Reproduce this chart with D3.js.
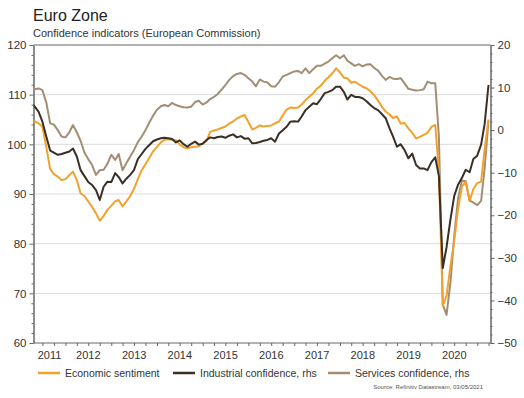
<!DOCTYPE html>
<html><head><meta charset="utf-8">
<script src="https://cdn.jsdelivr.net/npm/d3@7/dist/d3.min.js"></script>
<style>body{margin:0;background:#fff}svg{display:block;font-family:"Liberation Sans",Arial,sans-serif}</style>
</head><body><svg id="chart" width="524" height="398"></svg>
<script>
// Monthly data, April 2011 .. April 2021
const firstMonth = [2011, 3]; // year, month index (April)
const economicSentiment = [
104.3,104.6,104.2,103.6,99.5,95.0,94.0,93.5,92.8,93.0,93.8,94.5,
92.8,90.1,89.6,88.5,87.4,86.1,84.6,85.6,86.8,87.6,88.5,88.8,
87.5,88.5,89.6,91.0,93.0,94.8,96.0,97.3,98.6,99.5,100.4,100.9,
101.0,100.9,100.8,100.0,99.4,99.2,99.4,99.5,99.6,100.2,100.7,102.5,
102.8,103.0,103.3,103.6,104.2,104.6,105.2,105.6,105.9,104.5,103.0,103.3,
103.8,103.6,103.7,103.8,104.2,104.6,105.8,107.0,107.4,107.3,107.4,108.0,
108.9,109.6,110.3,111.2,111.8,112.8,113.5,114.3,115.3,114.5,113.4,113.3,
112.4,112.6,112.1,111.6,111.3,110.7,109.9,108.8,107.6,106.6,106.0,105.3,
105.6,104.2,104.3,103.2,102.3,101.2,101.5,101.9,102.3,103.5,103.9,94.5,
67.5,69.5,75.5,80.5,87.0,91.5,92.5,88.6,91.0,92.2,92.5,99.0,
105.0];
const industrialConfidence = [
6.5,5.5,4.3,2.0,-1.5,-4.8,-5.3,-5.8,-5.6,-5.3,-5.0,-4.3,
-6.2,-9.4,-10.8,-12.2,-12.9,-14.1,-16.4,-13.3,-12.1,-12.2,-10.1,-11.0,
-12.5,-11.4,-10.5,-9.4,-6.8,-5.6,-4.4,-3.5,-2.6,-2.2,-1.9,-1.8,
-1.9,-2.1,-2.9,-2.4,-3.3,-3.9,-3.2,-2.7,-3.4,-3.2,-2.3,-1.7,
-1.9,-1.6,-1.5,-1.8,-1.3,-1.0,-1.7,-1.4,-2.0,-1.9,-3.1,-3.0,
-2.8,-2.5,-2.3,-1.9,-2.7,-0.8,0.0,0.8,2.0,2.1,2.0,3.2,
4.7,5.5,6.3,6.1,7.3,8.7,9.0,9.4,10.2,10.2,9.0,7.2,
8.3,7.8,7.8,7.5,6.8,5.9,5.2,4.7,3.8,2.8,0.4,-1.5,
-3.9,-3.3,-4.7,-6.6,-5.5,-8.2,-9.0,-9.0,-9.4,-7.5,-6.4,-10.8,
-32.4,-27.5,-21.0,-15.5,-12.8,-11.2,-9.3,-9.9,-6.8,-6.0,-3.4,1.4,
10.6];
const servicesConfidence = [
9.6,9.6,9.8,9.4,6.5,1.6,1.3,0.0,-1.5,-1.7,-0.5,1.2,
-0.5,-2.5,-5.3,-6.8,-8.2,-10.5,-9.4,-9.3,-7.9,-5.8,-7.0,-5.6,
-9.4,-7.8,-6.2,-4.7,-2.8,-1.5,0.0,1.8,3.4,4.8,5.6,5.9,
5.6,6.4,5.9,5.6,5.4,5.3,5.5,6.6,6.9,6.0,6.5,7.3,
7.8,8.5,9.5,10.6,11.8,12.7,13.2,13.4,13.0,12.2,11.4,10.3,
11.9,11.4,11.2,10.3,10.2,11.3,12.6,13.0,13.4,13.8,13.9,13.4,
14.5,13.4,14.3,15.1,15.1,15.6,16.1,16.9,17.6,16.9,17.6,16.3,
15.7,15.1,15.5,15.0,15.4,15.5,14.6,14.0,12.8,11.8,12.5,12.1,
12.0,12.2,11.0,9.7,9.5,9.3,9.4,9.6,11.4,11.0,11.0,-1.5,
-41.0,-43.4,-35.8,-25.0,-16.0,-11.8,-12.0,-16.5,-17.0,-17.6,-16.6,-9.0,
2.2];
const yearLabels = [2011,2012,2013,2014,2015,2016,2017,2018,2019,2020];
const leftTicks = [60,70,80,90,100,110,120];
const rightTicks = [-50,-40,-30,-20,-10,0,10,20];
const gridValues = [70,80,90,100,110];
const seriesNames = ["Economic sentiment","Industrial confidence, rhs","Services confidence, rhs"];
const seriesColors = ["#F2A22C","#3A2F25","#A38E74"];
const titleText = "Euro Zone";
const subtitleText = "Confidence indicators (European Commission)";
const sourceText = "Source: Refinitiv Datastream, 03/05/2021";

const svg = d3.select("#chart");
const L = 33.5, R = 490.5, T = 45, B = 343;
const dates = economicSentiment.map((_, i) => new Date(firstMonth[0], firstMonth[1] + i, 1));
const x = d3.scaleTime().domain([dates[0], dates[dates.length - 1]]).range([31, 488.5]);
const yL = d3.scaleLinear().domain([60, 120]).range([B, T]);
const yR = d3.scaleLinear().domain([-50, 20]).range([B, T]);
const axisColor = "#666", textColor = "#333";

svg.append("defs").append("clipPath").attr("id", "clip")
  .append("rect").attr("x", L).attr("y", T - 5).attr("width", R - L).attr("height", B - T + 10);

// title
svg.append("text").attr("x", 33).attr("y", 21).attr("font-size", 16).attr("fill", "#222").text(titleText);
svg.append("text").attr("x", 33).attr("y", 36.5).attr("font-size", 11).attr("fill", textColor).text(subtitleText);

// grid
svg.append("g").selectAll("line").data(gridValues).join("line")
  .attr("x1", L).attr("x2", R).attr("y1", d => yL(d)).attr("y2", d => yL(d))
  .attr("stroke", "#dcdcdc").attr("stroke-width", 1);

// top border
svg.append("line").attr("x1", L).attr("x2", R).attr("y1", T).attr("y2", T).attr("stroke", axisColor).attr("stroke-width", 1);

function styleAxis(g) {
  g.select(".domain").attr("stroke", axisColor);
  g.selectAll(".tick line").attr("stroke", axisColor);
  g.selectAll(".tick text").attr("fill", textColor).attr("font-size", 11.5)
    .attr("font-family", '"Liberation Sans",Arial,sans-serif');
}
const minorLeft = d3.range(62, 120, 2).filter(v => !leftTicks.includes(v));
const minorRight = d3.range(-48, 20, 2).filter(v => !rightTicks.includes(v));

svg.append("g").attr("transform", `translate(${L},0)`)
  .call(d3.axisLeft(yL).tickValues(minorLeft).tickSize(2).tickSizeOuter(0).tickFormat(""))
  .call(styleAxis);
svg.append("g").attr("transform", `translate(${L},0)`)
  .call(d3.axisLeft(yL).tickValues(leftTicks).tickSize(4).tickPadding(3).tickSizeOuter(0))
  .call(styleAxis);
svg.append("g").attr("transform", `translate(${R},0)`)
  .call(d3.axisRight(yR).tickValues(minorRight).tickSize(2).tickSizeOuter(0).tickFormat(""))
  .call(styleAxis);
svg.append("g").attr("transform", `translate(${R},0)`)
  .call(d3.axisRight(yR).tickValues(rightTicks).tickSize(4).tickPadding(3).tickSizeOuter(0))
  .call(styleAxis);

// bottom axis with quarterly ticks
const xAxisScale = x.copy();
const quarterTicks = d3.timeMonth.range(new Date(2011, 6, 1), new Date(2021, 4, 1), 3)
  .filter(d => x(d) > L && x(d) <= R);
const bottom = svg.append("g").attr("transform", `translate(0,${B})`)
  .call(d3.axisBottom(xAxisScale).tickValues(quarterTicks).tickSize(3).tickSizeOuter(0).tickFormat(""))
  .call(styleAxis);
bottom.select(".domain").attr("d", `M${L},0H${R}`);

// year labels centred on visible part of each year
svg.append("g").selectAll("text").data(yearLabels).join("text")
  .attr("x", d => {
    const a = Math.max(x(new Date(d, 0, 1)), L);
    const b = Math.min(x(new Date(d + 1, 0, 1)), R);
    return (a + b) / 2;
  })
  .attr("y", 359).attr("text-anchor", "middle").attr("font-size", 11).attr("fill", textColor)
  .text(d => d);

// lines
const plot = svg.append("g").attr("clip-path", "url(#clip)");
const mk = (scale) => d3.line().x((d, i) => x(dates[i])).y(d => scale(d));
const series = [
  {vals: servicesConfidence, scale: yR, color: seriesColors[2]},
  {vals: economicSentiment, scale: yL, color: seriesColors[0]},
  {vals: industrialConfidence, scale: yR, color: seriesColors[1]}
];
series.forEach(s => {
  plot.append("path").datum(s.vals).attr("d", mk(s.scale))
    .attr("fill", "none").attr("stroke", s.color).attr("stroke-width", 2)
    .attr("stroke-linejoin", "round");
});

// legend
const legendX = [38, 173, 328];
const lg = svg.append("g");
seriesNames.forEach((n, i) => {
  lg.append("line").attr("x1", legendX[i]).attr("x2", legendX[i] + 22).attr("y1", 373).attr("y2", 373)
    .attr("stroke", seriesColors[i]).attr("stroke-width", 2.5);
  lg.append("text").attr("x", legendX[i] + 27).attr("y", 377).attr("font-size", 10.5).attr("fill", textColor).text(n);
});
svg.append("text").attr("x", 483).attr("y", 388.5).attr("text-anchor", "end").attr("font-size", 6).attr("fill", "#555").text(sourceText);
</script></body></html>
